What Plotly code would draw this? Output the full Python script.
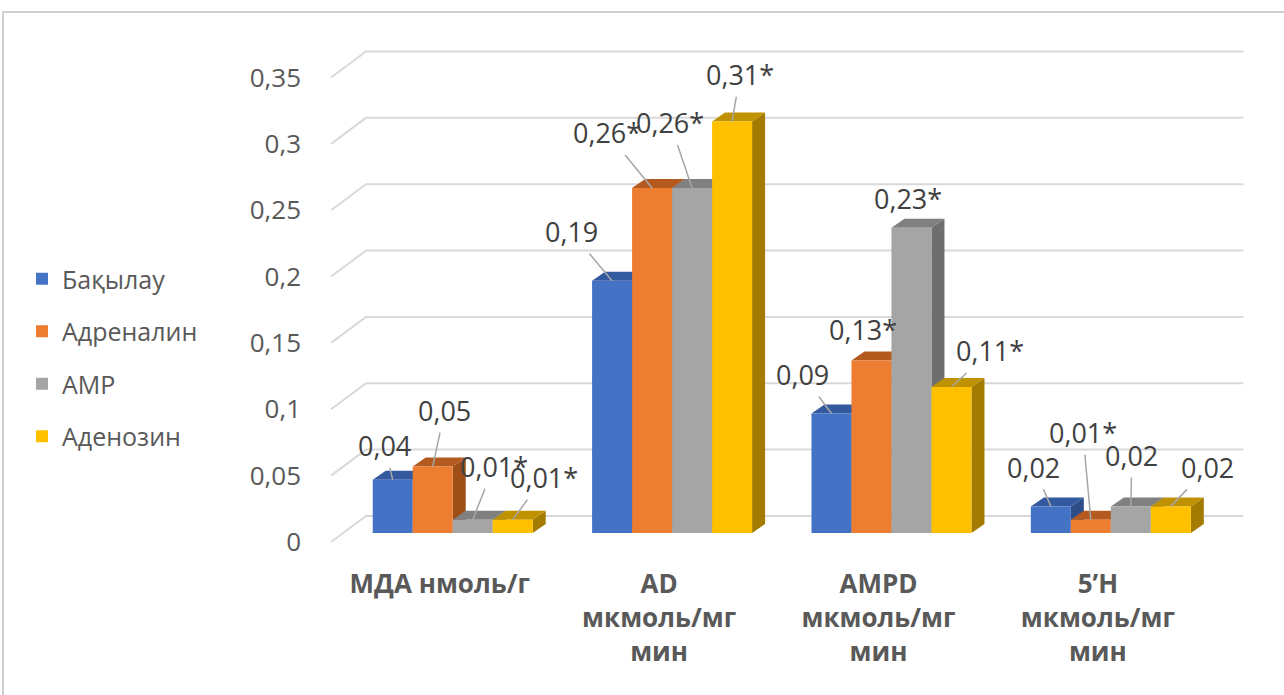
import plotly.graph_objects as go

# ---- data ----
categories = ["МДА нмоль/г", "AD<br>мкмоль/мг<br>мин", "AMPD<br>мкмоль/мг<br>мин", "5’H<br>мкмоль/мг<br>мин"]
series_names = ["Бақылау", "Адреналин", "AMP", "Аденозин"]
bakylau = [0.04, 0.19, 0.09, 0.02]
adrenalin = [0.05, 0.26, 0.13, 0.01]
amp = [0.01, 0.26, 0.23, 0.02]
adenozin = [0.01, 0.31, 0.11, 0.02]
# significance marks shown after each value
marks_bakylau = ["", "", "", ""]
marks_adrenalin = ["", "*", "*", "*"]
marks_amp = ["*", "*", "*", ""]
marks_adenozin = ["*", "*", "*", ""]
y_ticks = [0, 0.05, 0.1, 0.15, 0.2, 0.25, 0.3, 0.35]
y_ticktext = ["0", "0,05", "0,1", "0,15", "0,2", "0,25", "0,3", "0,35"]

series_values = [bakylau, adrenalin, amp, adenozin]
series_marks = [marks_bakylau, marks_adrenalin, marks_amp, marks_adenozin]

# ---- styling ----
front_colors = ["#4472C4", "#ED7D31", "#A5A5A5", "#FFC000"]
top_colors = ["#335A9E", "#B55A1F", "#808080", "#C09100"]
side_colors = ["#2C4D87", "#9E4E17", "#6E6E6E", "#A37B00"]
grid_color = "#D9D9D9"
text_color = "#595959"
label_color = "#404040"
FONT = "Open Sans"

W, H = 1284, 695
ML, MR, MT, MB = 320, 24, 40, 135
XR = [-0.605, 3.68]
YR = [-0.0204, 0.3715]
px_x = (W - ML - MR) / (XR[1] - XR[0])     # pixels per category unit
px_y = (H - MT - MB) / (YR[1] - YR[0])     # pixels per value unit


def dx(p):
    return p / px_x


def dy(p):
    return p / px_y


# depth vectors (pixels) for the oblique projection
bar_dx, bar_dy = dx(13), dy(9)          # bar depth
back_dx, back_dy = dx(23), dy(17)       # bar plane -> back wall
front_dx, front_dy = dx(-12), dy(-9)    # bar plane -> front edge of side wall

bw = dx(40)
centers_off = [-1.5 * bw, -0.5 * bw, 0.5 * bw, 1.5 * bw]
xs = list(range(len(categories)))

fig = go.Figure()

# gridlines: side wall diagonal + back wall (base axes, drawn first)
for g in y_ticks:
    fig.add_trace(go.Scatter(
        x=[-0.5 + front_dx, -0.5 + back_dx, 3.5 + back_dx],
        y=[g + front_dy, g + back_dy, g + back_dy],
        mode="lines", line=dict(color=grid_color, width=2),
        hoverinfo="skip", showlegend=False))

# side faces
for si, vals in enumerate(series_values):
    px_, py_ = [], []
    for ci, v in enumerate(vals):
        xr = xs[ci] + centers_off[si] + bw / 2
        px_ += [xr, xr + bar_dx, xr + bar_dx, xr, xr, None]
        py_ += [0, bar_dy, v + bar_dy, v, 0, None]
    fig.add_trace(go.Scatter(x=px_, y=py_, mode="lines", fill="toself",
                             fillcolor=side_colors[si], line=dict(width=0, color=side_colors[si]),
                             hoverinfo="skip", showlegend=False))
# top faces
for si, vals in enumerate(series_values):
    px_, py_ = [], []
    for ci, v in enumerate(vals):
        xl = xs[ci] + centers_off[si] - bw / 2
        xr = xl + bw
        px_ += [xl, xr, xr + bar_dx, xl + bar_dx, xl, None]
        py_ += [v, v, v + bar_dy, v + bar_dy, v, None]
    fig.add_trace(go.Scatter(x=px_, y=py_, mode="lines", fill="toself",
                             fillcolor=top_colors[si], line=dict(width=0, color=top_colors[si]),
                             hoverinfo="skip", showlegend=False))

# front faces on overlaid axes so they sit above the faces and gridlines
for si, vals in enumerate(series_values):
    fig.add_trace(go.Bar(
        x=xs, y=vals, width=bw, offset=centers_off[si] - bw / 2,
        name=series_names[si], legendgroup=series_names[si],
        xaxis="x2", yaxis="y2",
        marker=dict(color=front_colors[si], line=dict(width=0))))

# data labels with leader lines (label offset in pixels, leader shown?)
label_pos = [
    [(-8, -34, True), (-41, -49, True), (-29, -39, True), (-17, -39, True)],
    [(12, -56, True), (-45, -55, True), (-8, -31, False), (-8, -87, True)],
    [(21, -53, True), (-22, -65, True), (-3, -29, False), (1, -51, True)],
    [(31, -42, True), (8, -47, True), (39, -36, True), (37, -39, True)],
]
for si, vals in enumerate(series_values):
    for ci, v in enumerate(vals):
        ax, ay, leader = label_pos[si][ci]
        txt = f"{v:.2f}".replace(".", ",") + series_marks[si][ci]
        fig.add_annotation(
            x=xs[ci] + centers_off[si], y=v, xref="x2", yref="y2", text=txt,
            showarrow=True, arrowhead=0, arrowwidth=1.5, standoff=0,
            arrowcolor="#A6A6A6" if leader else "rgba(0,0,0,0)",
            ax=ax, ay=ay, borderpad=3,
            font=dict(family=FONT, size=27, color=label_color))

# chart area border
fig.add_shape(type="rect", xref="paper", yref="paper",
              x0=(3 - ML) / (W - ML - MR), x1=(W + 10 - ML) / (W - ML - MR),
              y0=-(H + 10 - (H - MB)) / (H - MT - MB), y1=1 + (MT - 12) / (H - MT - MB),
              line=dict(color="#D0D0D0", width=2), fillcolor="rgba(0,0,0,0)", layer="below")

fig.update_layout(
    width=W, height=H,
    margin=dict(l=ML, r=MR, t=MT, b=MB),
    paper_bgcolor="white", plot_bgcolor="white",
    barmode="overlay",
    showlegend=True,
    legend=dict(x=(22 - ML) / (W - ML - MR), xanchor="left",
                y=1 - (256 - MT) / (H - MT - MB), yanchor="top",
                traceorder="grouped", tracegroupgap=17,
                font=dict(family=FONT, size=25, color=text_color),
                bgcolor="rgba(0,0,0,0)"),
    xaxis=dict(range=XR, tickvals=xs, ticktext=categories,
               showgrid=False, zeroline=False, showline=False, ticks="",
               ticklabelshift=-13, ticklabelstandoff=6,
               tickfont=dict(family=FONT, size=26, color=text_color, weight="bold")),
    yaxis=dict(range=YR, tickvals=y_ticks, ticktext=y_ticktext,
               showgrid=False, zeroline=False, showline=False, ticks="",
               ticklabelshift=9, ticklabelstandoff=18,
               tickfont=dict(family=FONT, size=26, color=text_color)),
    xaxis2=dict(range=XR, overlaying="x", visible=False),
    yaxis2=dict(range=YR, overlaying="y", visible=False),
)

fig.write_html("out.html")
